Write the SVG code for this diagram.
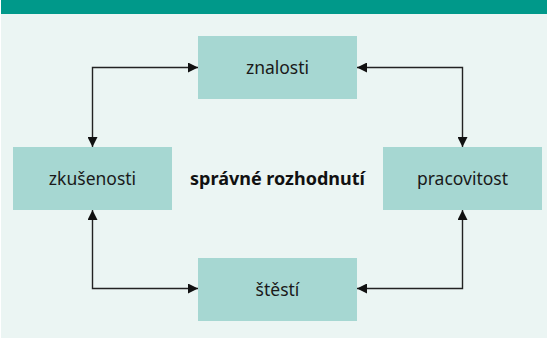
<svg xmlns="http://www.w3.org/2000/svg" width="547" height="338" viewBox="0 0 547 338">
  <style>
    .node rect { fill: #A6D7D2; }
    .node text { font-family: "Noto Sans", "Open Sans", sans-serif; font-size: 17.5px; fill: #1A1A1A; text-anchor: middle; }
    .center { font-family: "Noto Sans", "Open Sans", sans-serif; font-size: 18px; font-weight: bold; fill: #111111; text-anchor: middle; }
    .conn path { fill: none; stroke: #222222; stroke-width: 1.4; marker-start: url(#ah); marker-end: url(#ah); }
  </style>
  <defs>
    <marker id="ah" viewBox="0 0 10 10" refX="10" refY="5" markerWidth="10" markerHeight="10" markerUnits="userSpaceOnUse" orient="auto-start-reverse">
      <path d="M0,0 L10,5 L0,10 Z" fill="#111111"/>
    </marker>
  </defs>
  <rect x="0" y="0" width="547" height="338" fill="#FFFFFF"/>
  <rect x="1" y="0" width="546" height="338" fill="#EBF5F3"/>
  <rect x="1" y="0" width="546" height="14" fill="#00998A"/>

  <g class="conn" id="connectors">
    <path d="M198,67.5 L92.5,67.5 L92.5,147"/>
    <path d="M357,67.5 L462.5,67.5 L462.5,147"/>
    <path d="M92.5,210 L92.5,288.5 L198,288.5"/>
    <path d="M462.5,210 L462.5,288.5 L357,288.5"/>
  </g>

  <g class="node" id="node-znalosti">
    <rect x="198" y="36" width="159" height="63"/>
    <text x="277.5" y="73.8">znalosti</text>
  </g>
  <g class="node" id="node-zkusenosti">
    <rect x="13" y="147" width="159" height="63"/>
    <text x="92.5" y="184.8">zkušenosti</text>
  </g>
  <g class="node" id="node-pracovitost">
    <rect x="383" y="147" width="159" height="63"/>
    <text x="462.5" y="184.8">pracovitost</text>
  </g>
  <g class="node" id="node-stesti">
    <rect x="198" y="258" width="159" height="63"/>
    <text x="277.5" y="295.8">štěstí</text>
  </g>
  <g id="node-center">
    <text class="center" x="277.5" y="185">správné rozhodnutí</text>
  </g>
</svg>
